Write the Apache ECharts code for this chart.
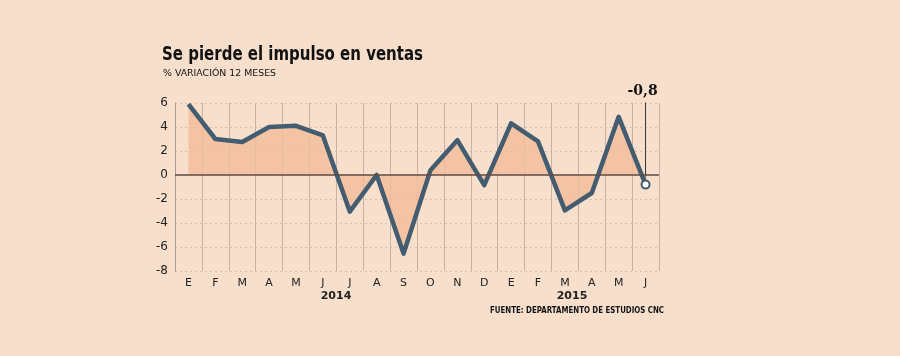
<!DOCTYPE html>
<html><head><meta charset="utf-8">
<script src="https://cdn.jsdelivr.net/npm/echarts@6/dist/echarts.min.js"></script>
<style>html,body{margin:0;padding:0;background:#F8DFCC}#c{width:900px;height:356px}</style>
</head><body><div id="c"></div>
<script>
var categories = ['E','F','M','A','M','J','J','A','S','O','N','D','E','F','M','A','M','J'];
var values = [5.9, 3.0, 2.75, 4.0, 4.1, 3.3, -3.05, 0.0, -6.55, 0.4, 2.9, -0.85, 4.3, 2.8, -2.95, -1.5, 4.85, -0.8];
var yearLabels = ['2014', '2015'];
var yTicks = {min: -8, max: 6, interval: 2};
var lastLabel = '-0,8';
var titleText = 'Se pierde el impulso en ventas';
var subtitleText = '% VARIACIÓN 12 MESES';
var sourceText = 'FUENTE: DEPARTAMENTO DE ESTUDIOS CNC';

var measureCtx = document.createElement('canvas').getContext('2d');
function fitScale(text, font, target) {
  measureCtx.font = font;
  return target / measureCtx.measureText(text).width;
}

var lineColor = '#445C6F';
var last = values.length - 1;
var data = values.map(function (v, i) {
  if (i === last) {
    return {value: v, symbol: 'circle', symbolSize: 8,
      itemStyle: {color: '#ffffff', borderColor: lineColor, borderWidth: 2}};
  }
  return v;
});
var titleFont = 'bold 19px "DejaVu Sans"';
var subFont = '9.5px "DejaVu Sans"';
var srcFont = 'bold 9px "DejaVu Sans"';
var chart = echarts.init(document.getElementById('c'));
chart.setOption({
  backgroundColor: '#F8DFCC',
  animation: false,
  grid: {left: 175, right: 241, top: 103, bottom: 85},
  xAxis: {
    type: 'category', data: categories, boundaryGap: true,
    axisLine: {show: false}, axisTick: {show: false},
    axisLabel: {margin: 7, fontFamily: 'DejaVu Sans', fontSize: 11, color: '#222'},
    splitLine: {show: true, lineStyle: {color: '#C4B3A8', width: 1}}
  },
  yAxis: {
    type: 'value', min: yTicks.min, max: yTicks.max, interval: yTicks.interval,
    axisLine: {show: true, lineStyle: {color: '#A89C94', width: 1}}, axisTick: {show: false},
    axisLabel: {margin: 7, fontFamily: 'DejaVu Sans', fontSize: 12, color: '#222'},
    splitLine: {show: true, lineStyle: {color: '#D5BFB0', type: [2, 3], width: 1}}
  },
  series: [{
    type: 'line', data: data, symbol: 'none', showSymbol: true,
    lineStyle: {color: lineColor, width: 4.5, join: 'round'},
    areaStyle: {color: '#F2BC99', opacity: 0.8, origin: 0},
    z: 3,
    markLine: {
      silent: true, symbol: 'none', animation: false, z: 4,
      label: {show: false},
      lineStyle: {color: '#5E4D45', width: 1.6, type: 'solid'},
      data: [[{yAxis: 0, x: 175}, {yAxis: 0, x: 659}]]
    }
  }, {
    type: 'line', symbol: 'none', z: 2, silent: true,
    data: [[last, values[last]], [last, 6.25]],
    lineStyle: {color: '#333333', width: 1},
    endLabel: {show: true, formatter: lastLabel, offset: [-26, -9],
      fontFamily: 'DejaVu Serif', fontWeight: 'bold', fontSize: 14, color: '#111'}
  }],
  graphic: [
    {type: 'text', x: 162, y: 46, scaleX: fitScale(titleText, titleFont, 261), z: 10,
      style: {text: titleText, align: 'left', verticalAlign: 'top', font: titleFont, fill: '#111'}},
    {type: 'text', x: 163, y: 68.5, scaleX: fitScale(subtitleText, subFont, 113), z: 10,
      style: {text: subtitleText, align: 'left', verticalAlign: 'top', font: subFont, fill: '#111'}},
    {type: 'text', x: 336, y: 291, z: 10,
      style: {text: yearLabels[0], align: 'center', verticalAlign: 'top', font: 'bold 11px "DejaVu Sans"', fill: '#222'}},
    {type: 'text', x: 572, y: 291, z: 10,
      style: {text: yearLabels[1], align: 'center', verticalAlign: 'top', font: 'bold 11px "DejaVu Sans"', fill: '#222'}},
    {type: 'text', x: 490, y: 306, scaleX: fitScale(sourceText, srcFont, 174), z: 10,
      style: {text: sourceText, align: 'left', verticalAlign: 'top', font: srcFont, fill: '#111'}}
  ]
});
</script></body></html>
